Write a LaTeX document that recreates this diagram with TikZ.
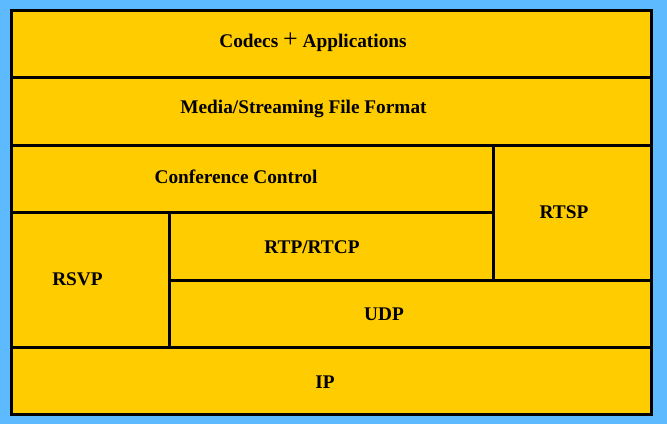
\documentclass[tikz,border=0pt]{standalone}
\usepackage{fontspec}
\setmainfont{Liberation Serif}
\usepackage{tikz}

\definecolor{skyback}{HTML}{5DBAFF}
\definecolor{layerfill}{HTML}{FFCC00}

\begin{document}
\begin{tikzpicture}[x=1pt, y=-1pt,
    every node/.style={font=\fontsize{19.3}{22}\selectfont\bfseries},
    layer/.style={draw=black, line width=3pt, fill=layerfill, rectangle, inner sep=0pt}]
  % background
  \fill[skyback] (0,0) rectangle (667,424);
  \useasboundingbox (0,0) rectangle (667,424);

  % protocol cells (corners in px)
  \node[layer, minimum width=640pt, minimum height=67pt] (codecs) at (331,43.5) {};
  \node[layer, minimum width=640pt, minimum height=68pt] (media) at (331,111) {};
  \node[layer, minimum width=482pt, minimum height=67pt] (conf) at (252,178.5) {};
  \node[layer, minimum width=158pt, minimum height=135pt] (rtsp) at (572,212.5) {};
  \node[layer, minimum width=158pt, minimum height=135pt] (rsvp) at (90,279.5) {};
  \node[layer, minimum width=324pt, minimum height=68pt] (rtp) at (331,246) {};
  \node[layer, minimum width=482pt, minimum height=67pt] (udp) at (410,313.5) {};
  \node[layer, minimum width=640pt, minimum height=67pt] (ip) at (331,380.5) {};

  % labels
  \node at (313,42) {Codecs {\fontsize{26}{26}\selectfont\mdseries +} Applications};
  \node at (303.5,109) {Media/Streaming File Format};
  \node at (236,177) {Conference Control};
  \node at (564,212) {RTSP};
  \node at (312,247) {RTP/RTCP};
  \node at (77.5,279) {RSVP};
  \node at (384,314) {UDP};
  \node at (325,382) {IP};
\end{tikzpicture}
\end{document}
